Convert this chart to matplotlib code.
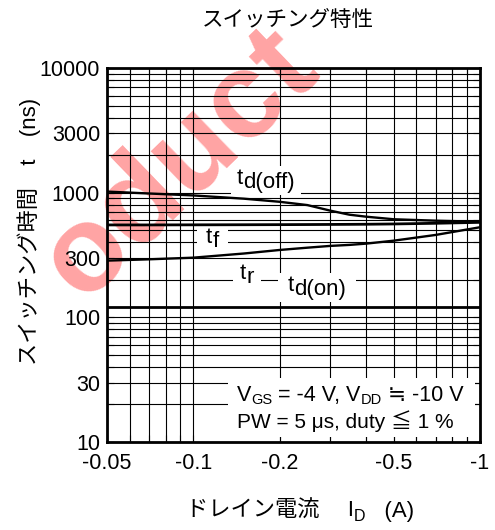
import numpy as np
import matplotlib
matplotlib.use("Agg")
import matplotlib.pyplot as plt
from matplotlib.transforms import IdentityTransform
from matplotlib.patches import Rectangle
from matplotlib.ticker import FixedLocator, FixedFormatter, NullFormatter

FAM = ['Liberation Sans', 'Noto Sans CJK JP', 'DejaVu Sans']
plt.rcParams['font.family'] = FAM

# ---- data ----
drain_current = [-0.05, -0.07, -0.1, -0.15, -0.2, -0.25, -0.3, -0.35, -0.4, -0.5, -0.7, -1.0]
td_off = [1020, 985, 950, 895, 845, 795, 718, 666, 642, 612, 596, 585]
t_f    = [551, 551, 552, 553, 554, 555, 556, 557, 558, 561, 568, 578]
t_r    = [285, 292, 301, 325, 347, 362, 374, 381, 390, 412, 458, 528]
td_on  = [120, 120, 120, 120, 120, 120, 120, 120, 120, 120, 120, 120]

x_ticks = [-0.05, -0.1, -0.2, -0.5, -1]
x_tick_labels = ["-0.05", "-0.1", "-0.2", "-0.5", "-1"]
x_minor = [-0.06, -0.07, -0.08, -0.09, -0.3, -0.4, -0.6, -0.7, -0.8, -0.9]
y_ticks = [10, 30, 100, 300, 1000, 3000, 10000]
y_tick_labels = ["10", "30", "100", "300", "1000", "3000", "10000"]

title = "スイッチング特性"
ylabel = "スイッチング時間　t　(ns)"

W, H = 495, 530
fig = plt.figure(figsize=(W / 100, H / 100), dpi=100)
ax = fig.add_axes([107 / W, (H - 442) / H, (480 - 107) / W, (442 - 68) / H])
ax.patch.set_visible(False)

xa = np.abs(drain_current)
ax.set_xscale('log')
ax.set_yscale('log')
ax.set_xlim(0.05, 1.0)
ax.set_ylim(10, 10000)

ax.xaxis.set_major_locator(FixedLocator(np.abs(x_ticks)))
ax.xaxis.set_major_formatter(FixedFormatter(x_tick_labels))
ax.xaxis.set_minor_locator(FixedLocator(np.abs(x_minor)))
ax.xaxis.set_minor_formatter(NullFormatter())
ax.yaxis.set_major_locator(FixedLocator(y_ticks))
ax.yaxis.set_major_formatter(FixedFormatter(y_tick_labels))
ymin = [m * d for d in (10, 100, 1000) for m in range(2, 10)]
ax.yaxis.set_minor_locator(FixedLocator([v for v in ymin if v not in y_ticks]))
ax.yaxis.set_minor_formatter(NullFormatter())

ax.tick_params(which='both', direction='in', top=True, right=True, length=5, width=0.8, colors='black')
ax.tick_params(axis='x', which='major', labelsize=15.5, pad=8)
ax.tick_params(axis='y', which='major', labelsize=15.5, pad=5)
ax.set_axisbelow(True)
ax.grid(True, which='both', color='black', linewidth=0.8)
for s in ax.spines.values():
    s.set_linewidth(2.0)
    s.set_zorder(6)

lw = 1.7
ax.plot(xa, td_off, color='black', lw=lw, zorder=3, solid_capstyle='butt')
ax.plot(xa, t_f, color='black', lw=2.0, zorder=3, solid_capstyle='butt')
ax.plot(xa, t_r, color='black', lw=lw, zorder=3, solid_capstyle='butt')
ax.plot(xa, td_on, color='black', lw=2.0, zorder=3, solid_capstyle='butt')

fig.canvas.draw()
R = fig.canvas.get_renderer()


def runs(x, base, parts, box=None, zorder=5):
    """parts: (text, size, dy) ; pixel coords from top-left"""
    cx = x
    arts = []
    for s, size, dy in parts:
        t = ax.text(cx, H - (base + dy), s, transform=IdentityTransform(),
                    fontsize=size, ha='left', va='baseline', zorder=zorder,
                    family=FAM, clip_on=False)
        bb = t.get_window_extent(R)
        cx = bb.x1
        arts.append(bb)
    if box is not None:
        px, py = box
        x0 = min(b.x0 for b in arts) - px
        x1 = max(b.x1 for b in arts) + px
        y0 = min(b.y0 for b in arts) - py
        y1 = max(b.y1 for b in arts) + py
        ax.add_patch(Rectangle((x0, y0), x1 - x0, y1 - y0, transform=IdentityTransform(),
                               facecolor='white', edgecolor='none', zorder=2))
    return cx


fs = 16
runs(237, 184, [("t", fs, 0), ("d(off)", fs, 4)], box=(6, 2))
runs(206, 243, [("t", fs, 0), ("f", fs, 4)], box=(9, 2))
runs(240, 279, [("t", fs, 0), ("r", fs, 4)], box=(7, 2))
runs(288, 291, [("t", fs, 0), ("d(on)", fs, 4)], box=(10, 2))

# condition box
ax.add_patch(Rectangle((228, H - 437), 475 - 228, 437 - 378, transform=IdentityTransform(),
                       facecolor='white', edgecolor='none', zorder=2))
fc = 15.5
sub = 10.5
runs(237, 401, [("V", fc, 0), ("GS", sub, 3), (" = -4 V, V", fc, 0), ("DD", sub, 3), (" ≒ -10 V", fc, 0)])
runs(237, 428, [("PW = 5 μs, duty ≦ 1 %", 15, 0)])

# title and axis labels
fig.text(288 / W, 1 - 20 / H, title, ha='center', va='center', fontsize=15.5, family=FAM)
fig.text(29 / W, 1 - 231 / H, ylabel, ha='center', va='center', rotation=90, fontsize=16, family=FAM)

# x label with subscript
xl_parts = [("ドレイン電流　 I", 16, 0), ("D", 11.5, 4), ("   (A)", 16, 0)]
tot = 0
for s, size, dy in xl_parts:
    t = fig.text(0, 0, s, fontsize=size, family=FAM)
    tot += t.get_window_extent(R).width
    t.remove()
runs(300 - tot / 2, 517, xl_parts)

# watermark (kept inside the canvas)
fig.text(180 / W, 1 - 165 / H, "oduct", fontsize=88, fontweight='bold', color='#ff1a1a',
         alpha=0.4, rotation=44, ha='center', va='center', zorder=-1, family=['Liberation Sans'])

fig.savefig("out.png", dpi=100)
